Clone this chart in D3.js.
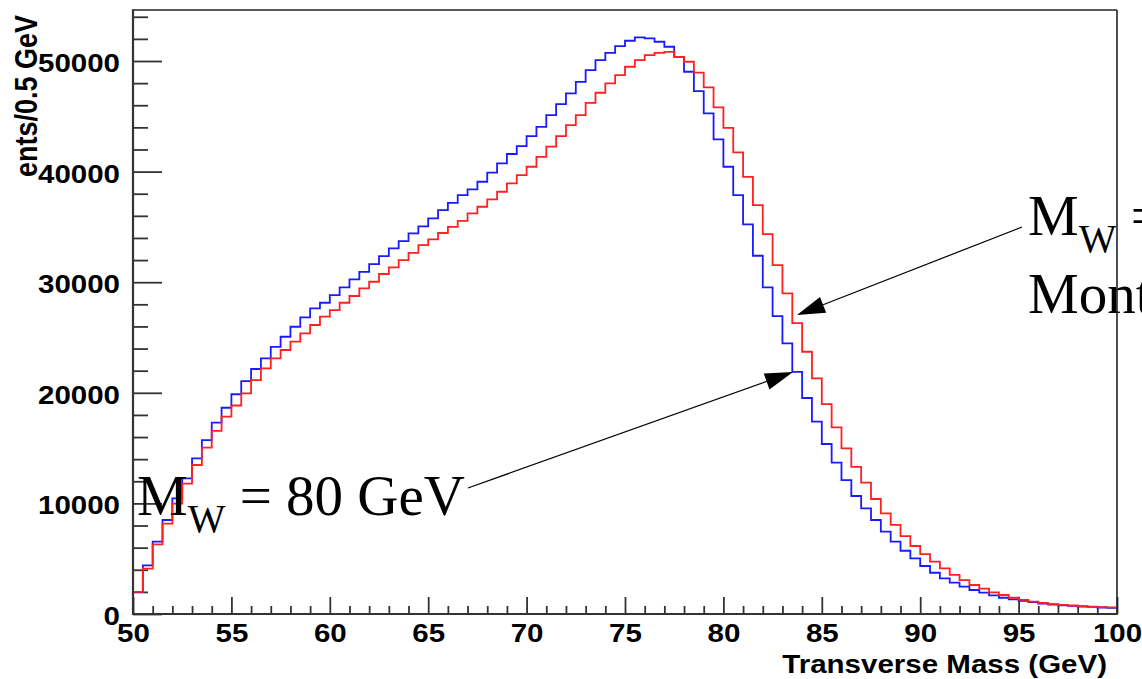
<!DOCTYPE html>
<html><head><meta charset="utf-8">
<script src="https://cdn.jsdelivr.net/npm/d3@7"></script>
<style>body{margin:0;background:#fff;overflow:hidden}</style>
</head><body><svg id="c" width="1142" height="679" xmlns="http://www.w3.org/2000/svg"></svg>
<script>
// ---- data (entries per 0.5 GeV bin, 50 -> 100 GeV) ----
const binStart = 50;
const binWidth = 0.5;
const blueCounts = [
  2000, 4400, 6540, 8500, 10460, 12270, 14080, 15730, 17300, 18650,
  19870, 21060, 22150, 23110, 24160, 25070, 25970, 26820, 27630, 28140,
  28840, 29530, 30250, 30940, 31640, 32360, 33060, 33720, 34420, 35050,
  35770, 36520, 37180, 37880, 38390, 39080, 39900, 40740, 41590, 42310,
  43210, 44050, 45110, 46100, 47070, 48120, 49180, 50080, 50740, 51350,
  51830, 52130, 52040, 51740, 51290, 50380, 49030, 47280, 45260, 42910,
  40440, 37880, 35230, 32390, 29530, 26940, 24470, 21900, 19530, 17390,
  15370, 13680, 12110, 10670, 9550, 8500, 7440, 6540, 5720, 5030,
  4340, 3730, 3230, 2830, 2470, 2170, 1930, 1690, 1470, 1330,
  1180, 1080, 940, 860, 790, 730, 680, 640, 590, 560
];
const redCounts = [
  2000, 4100, 6290, 8170, 9980, 11790, 13470, 15050, 16560, 17850,
  18850, 19950, 21150, 22210, 23110, 23870, 24620, 25370, 26130, 26880,
  27480, 28140, 28750, 29440, 30040, 30740, 31340, 32000, 32660, 33360,
  33870, 34450, 35010, 35550, 36220, 36820, 37490, 38180, 38930, 39690,
  40440, 41340, 42250, 43210, 44200, 45110, 46220, 47130, 47970, 48730,
  49480, 50080, 50530, 50740, 50830, 50380, 49930, 48940, 47620, 45810,
  43960, 41740, 39530, 36970, 34350, 31550, 28990, 26300, 23710, 21300,
  18980, 16870, 14980, 13310, 11870, 10400, 9100, 8050, 7050, 6150,
  5420, 4730, 4130, 3530, 3070, 2620, 2290, 1960, 1720, 1470,
  1270, 1110, 1010, 900, 830, 770, 720, 670, 630, 600
];
const xMajorTicks = [50, 55, 60, 65, 70, 75, 80, 85, 90, 95, 100];
const yMajorTicks = [0, 10000, 20000, 30000, 40000, 50000];
const xTitle = "Transverse Mass (GeV)";
const yTitle = "ents/0.5 GeV";
const note1 = {main: "M", sub: "W", rest: " = 80 GeV"};
const note2 = {main: "M", sub: "W", rest: " =", line2: "Mont"};

// ---- layout ----
const W = 1142, H = 679;
const L = 133, R = 1117, T = 10, B = 614;
const yMax = 54611;
const stretch = 1.18;

const svg = d3.select("#c");
svg.append("rect").attr("width", W).attr("height", H).attr("fill", "#fff");

const x = d3.scaleLinear().domain([50, 100]).range([L, R]);
const y = d3.scaleLinear().domain([0, yMax]).range([B, T]);

const xMinor = d3.range(50, 100.001, 1).filter(v => v % 5 !== 0);
const yMinor = d3.range(0, yMax, 2000).filter(v => v % 10000 !== 0);

const tickColor = "#333";
function styleTicks(g) {
  g.select(".domain").remove();
  g.selectAll("line").attr("stroke", tickColor).attr("stroke-width", 1.8);
}

// x ticks (pointing up inside frame)
svg.append("g").attr("transform", `translate(0,${B})`)
  .call(d3.axisTop(x).tickValues(xMajorTicks).tickSize(17).tickFormat(""))
  .call(styleTicks);
svg.append("g").attr("transform", `translate(0,${B})`)
  .call(d3.axisTop(x).tickValues(xMinor).tickSize(8).tickFormat(""))
  .call(styleTicks);
// y ticks (pointing right inside frame)
svg.append("g").attr("transform", `translate(${L},0)`)
  .call(d3.axisRight(y).tickValues(yMajorTicks).tickSize(29).tickFormat(""))
  .call(styleTicks);
svg.append("g").attr("transform", `translate(${L},0)`)
  .call(d3.axisRight(y).tickValues(yMinor).tickSize(15).tickFormat(""))
  .call(styleTicks);

const labelFont = "'Liberation Sans', Arial, Helvetica, sans-serif";
function stretchText(sel) {
  sel.each(function() {
    const w = this.getComputedTextLength();
    this.setAttribute("textLength", (w * stretch).toFixed(1));
    this.setAttribute("lengthAdjust", "spacingAndGlyphs");
  });
}

// x labels
const gxl = svg.append("g").attr("transform", `translate(0,${B})`)
  .call(d3.axisBottom(x).tickValues(xMajorTicks).tickSize(0).tickFormat(d3.format("d")));
gxl.select(".domain").remove();
gxl.selectAll("text").attr("y", 28).attr("dy", 0)
  .attr("font-family", labelFont).attr("font-weight", "bold")
  .attr("font-size", 25).attr("fill", "#000").call(stretchText);

// y labels
const gyl = svg.append("g").attr("transform", `translate(${L},0)`)
  .call(d3.axisLeft(y).tickValues(yMajorTicks).tickSize(0).tickPadding(13).tickFormat(d3.format("d")));
gyl.select(".domain").remove();
gyl.selectAll("text").attr("dy", "0.42em")
  .attr("font-family", labelFont).attr("font-weight", "bold")
  .attr("font-size", 25).attr("fill", "#000").call(stretchText);

// axis titles
svg.append("text").attr("x", 1107).attr("y", 673).attr("text-anchor", "end")
  .attr("font-family", labelFont).attr("font-weight", "bold").attr("font-size", 25)
  .text(xTitle).call(stretchText);
svg.append("text").attr("transform", `translate(37,15) scale(${stretch},1) rotate(-90)`)
  .attr("text-anchor", "end")
  .attr("font-family", labelFont).attr("font-weight", "bold").attr("font-size", 27)
  .text(yTitle);

// histograms
function steps(counts) {
  const pts = counts.map((v, i) => [binStart + i * binWidth, v]);
  pts.push([binStart + counts.length * binWidth, counts[counts.length - 1]]);
  return pts;
}
const line = d3.line().x(d => x(d[0])).y(d => y(d[1])).curve(d3.curveStepAfter);
svg.append("path").attr("d", line(steps(blueCounts)))
  .attr("fill", "none").attr("stroke", "#1a1aff").attr("stroke-width", 1.8);
svg.append("path").attr("d", line(steps(redCounts)))
  .attr("fill", "none").attr("stroke", "#ff2020").attr("stroke-width", 1.8);

// annotations
const serif = "'Liberation Serif', 'Times New Roman', Times, serif";
function note(n, x0, y0) {
  const t = svg.append("text").attr("x", x0).attr("y", y0)
    .attr("font-family", serif).attr("font-size", 57).attr("fill", "#000");
  t.append("tspan").text(n.main);
  t.append("tspan").attr("font-size", 40).attr("dy", 17).text(n.sub);
  t.append("tspan").attr("dy", -17).text(n.rest);
  return t;
}
note(note1, 137, 515);
note(note2, 1028, 235);
svg.append("text").attr("x", 1028).attr("y", 313)
  .attr("font-family", serif).attr("font-size", 57).attr("fill", "#000").text(note2.line2);

function arrow(x1, y1, x2, y2) {
  const ang = Math.atan2(y2 - y1, x2 - x1);
  const len = 28, hw = 8.5;
  const bx = x2 - len * Math.cos(ang), by = y2 - len * Math.sin(ang);
  svg.append("line").attr("x1", x1).attr("y1", y1).attr("x2", bx).attr("y2", by)
    .attr("stroke", "#000").attr("stroke-width", 1.2);
  const px = -Math.sin(ang) * hw, py = Math.cos(ang) * hw;
  svg.append("polygon")
    .attr("points", `${x2},${y2} ${bx + px},${by + py} ${bx - px},${by - py}`)
    .attr("fill", "#000");
}
arrow(468, 488, 793, 372);
arrow(1022, 227, 797, 315);

// frame
svg.append("line").attr("x1", L).attr("y1", T).attr("x2", R).attr("y2", T)
  .attr("stroke", "#222").attr("stroke-width", 1.6);
svg.append("line").attr("x1", R).attr("y1", T).attr("x2", R).attr("y2", B)
  .attr("stroke", "#222").attr("stroke-width", 1.6);
svg.append("line").attr("x1", L).attr("y1", T - 0.8).attr("x2", L).attr("y2", B + 1)
  .attr("stroke", "#333").attr("stroke-width", 2.2);
svg.append("line").attr("x1", L - 1).attr("y1", B).attr("x2", R + 0.8).attr("y2", B)
  .attr("stroke", "#333").attr("stroke-width", 2.2);
</script>
</body></html>
